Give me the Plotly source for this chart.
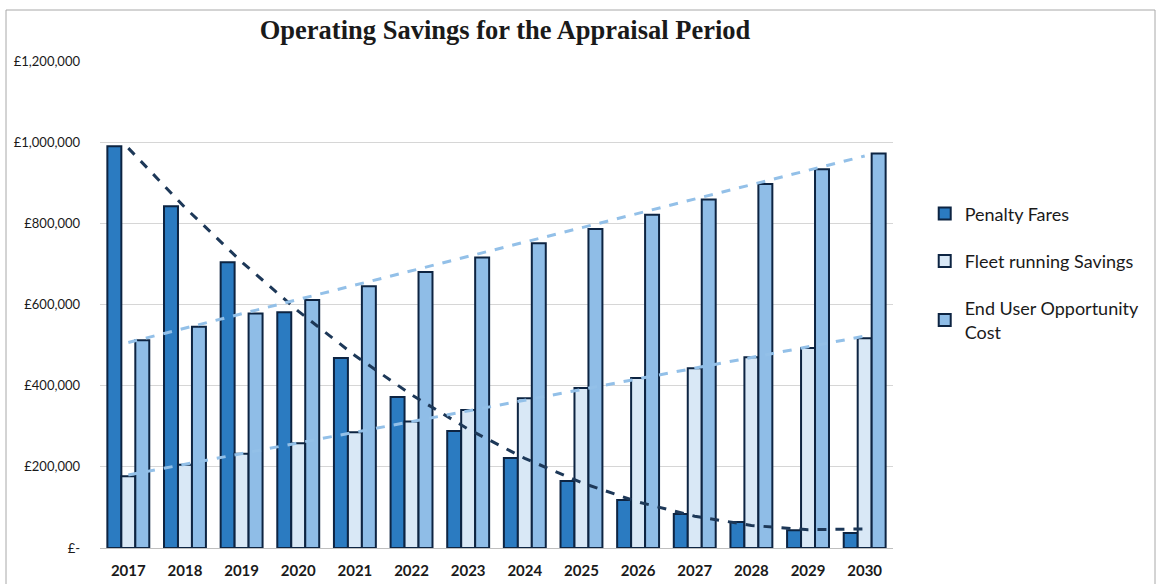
import numpy as np
import plotly.graph_objects as go

years = ["2017", "2018", "2019", "2020", "2021", "2022", "2023",
         "2024", "2025", "2026", "2027", "2028", "2029", "2030"]
penalty_fares = [990000, 842000, 704000, 581000, 468000, 372000, 288000,
                 222000, 165000, 118000, 84000, 64000, 44000, 37000]
fleet_savings = [177000, 205000, 232000, 258000, 285000, 312000, 340000,
                 369000, 394000, 419000, 443000, 470000, 493000, 517000]
end_user_cost = [512000, 545000, 578000, 611000, 645000, 680000, 716000,
                 751000, 786000, 821000, 859000, 897000, 933000, 972000]
y_tick_vals = [0, 200000, 400000, 600000, 800000, 1000000, 1200000]
y_tick_text = ["£-", "£200,000", "£400,000", "£600,000", "£800,000", "£1,000,000", "£1,200,000"]

series = [
    ("Penalty Fares", penalty_fares, "#2b7bc1"),
    ("Fleet running Savings", fleet_savings, "#d9e8f6"),
    ("End User Opportunity<br>Cost", end_user_cost, "#8fbde7"),
]
outline = "#0d2442"

fig = go.Figure()
for i, (name, vals, col) in enumerate(series):
    fig.add_trace(go.Bar(
        x=years, y=vals, name=name, legendgroup=f"g{i}",
        marker=dict(color=col, line=dict(color=outline, width=2)),
    ))

# trendlines computed from the data
idx = np.arange(len(years))
trend_specs = [
    (penalty_fares, 2, "#1d3858"),
    (fleet_savings, 1, "#93c0e8"),
    (end_user_cost, 1, "#93c0e8"),
]
for vals, deg, col in trend_specs:
    coef = np.polyfit(idx, vals, deg)
    fit = np.polyval(coef, idx)
    fig.add_trace(go.Scatter(
        x=years, y=fit, mode="lines", showlegend=False, hoverinfo="skip",
        line=dict(color=col, width=3, dash="dash"),
    ))

fig.update_layout(
    width=1161, height=584,
    margin=dict(l=100, r=268, t=61, b=36),
    paper_bgcolor="white", plot_bgcolor="white",
    barmode="group", bargap=0.26, bargroupgap=0,
    title=dict(
        text="<b>Operating Savings for the Appraisal Period</b>",
        font=dict(family="Liberation Serif", size=26.5, color="#1a1a1a"),
        x=505 / 1161, xanchor="center", xref="container",
        y=1 - 30 / 584, yanchor="middle", yref="container",
    ),
    legend=dict(
        x=1.04, xanchor="left", y=0.724, yanchor="top",
        font=dict(family="Lato", size=18, color="#1a1a1a"),
        tracegroupgap=21, bgcolor="rgba(0,0,0,0)",
        itemwidth=30,
    ),
    xaxis=dict(
        type="category", showgrid=False, showline=True, automargin=False,
        linecolor="#bfbfbf", linewidth=1, ticks="",
        tickfont=dict(family="Lato", size=15, color="#1a1a1a", weight="bold"),
        ticklabelstandoff=9,
    ),
    yaxis=dict(
        range=[0, 1200000], tickvals=y_tick_vals, ticktext=y_tick_text,
        showgrid=True, gridcolor="#d6d6d6", gridwidth=1, automargin=False,
        zeroline=False, showline=False, ticks="",
        tickfont=dict(family="Lato", size=13, color="#1a1a1a"),
        ticklabelstandoff=19,
    ),
    shapes=[dict(
        type="rect", xref="paper", yref="paper",
        x0=(6 - 100) / 793, x1=(1155 - 100) / 793,
        y0=-0.2, y1=(548 - 10) / 487,
        line=dict(color="#a8a8a8", width=1), fillcolor="rgba(0,0,0,0)",
        layer="below",
    )],
)

fig.write_html("out.html")
